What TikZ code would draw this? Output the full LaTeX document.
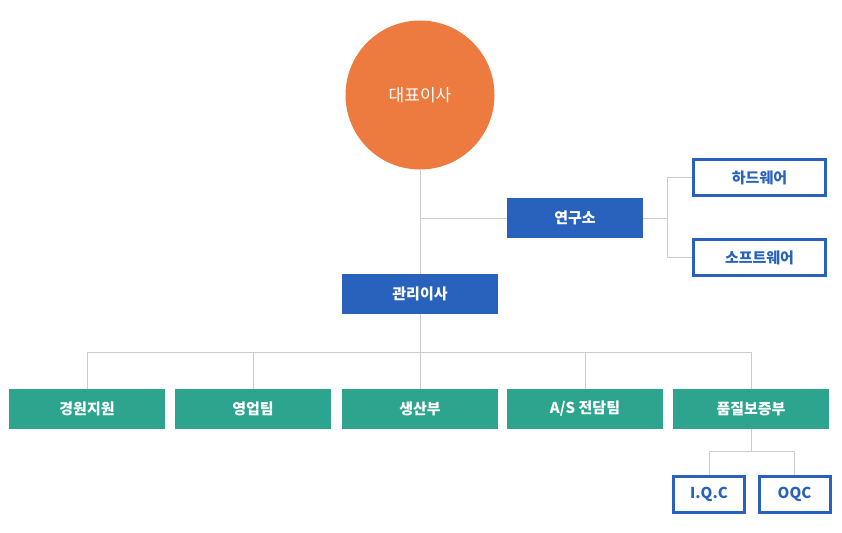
\documentclass[tikz,border=0pt]{standalone}
\usepackage{fontspec}
\setmainfont{Noto Sans CJK KR}
\usetikzlibrary{positioning}
\definecolor{orgorange}{RGB}{237,123,64}
\definecolor{orgblue}{RGB}{40,98,188}
\definecolor{orggreen}{RGB}{45,165,142}
\definecolor{orgline}{RGB}{204,204,204}
\tikzset{
  head/.style={circle, fill=orgorange, minimum size=149pt, inner sep=0pt,
               font=\fontsize{17}{20}\selectfont, text=white},
  chief/.style={fill=orgblue, minimum width=156pt, minimum height=40pt, inner sep=0pt,
                font=\fontsize{15}{18}\selectfont\bfseries, text=white},
  unit/.style={fill=orggreen, minimum width=156pt, minimum height=40pt, inner sep=0pt,
               font=\fontsize{15}{18}\selectfont\bfseries, text=white},
  team/.style={draw=orgblue, line width=3pt, fill=white, minimum height=36pt, inner sep=0pt,
               font=\fontsize{15}{18}\selectfont\bfseries, text=orgblue},
  link/.style={draw=orgline, line width=1pt},
}
\begin{document}
\begin{tikzpicture}[x=1pt,y=-1pt]
\useasboundingbox (0,0) rectangle (842,532);
% top
\node[head] (ceo) at (420,95) {대표이사};
\node[chief, minimum width=136pt] (lab) at (575,218) {연구소};
\node[chief] (mgr) at (420,294) {관리이사};
\node[team, minimum width=132pt] (hw) at (759.5,177.5) {하드웨어};
\node[team, minimum width=132pt] (sw) at (759.5,257.5) {소프트웨어};
% departments
\foreach \i/\x/\txt in {1/87/경원지원, 2/253/영업팀, 3/420/생산부, 4/585/{A/S 전담팀}, 5/751/품질보증부}
  \node[unit] (u\i) at (\x,409) {\txt};
\node[team, minimum width=71pt] (iqc) at (709,494.5) {I.Q.C};
\node[team, minimum width=71pt] (oqc) at (794.5,494.5) {OQC};
% links
\coordinate (ceojoint) at (ceo.south |- lab.west);
\coordinate (labbus) at (667,218);
\coordinate (bus) at (420,352);
\coordinate (qabus) at (751,451);
\draw[link] (ceo.south) -- (mgr.north);
\draw[link] (ceojoint) -- (lab.west);
\draw[link] (lab.east) -- (labbus);
\draw[link] (hw.west) -| (labbus);
\draw[link] (sw.west) -| (labbus);
\draw[link] (mgr.south) -- (bus);
\draw[link] (u1.north) |- (bus);
\draw[link] (u5.north) |- (bus);
\draw[link] (u2.north) -- (u2.north |- bus);
\draw[link] (u3.north) -- (bus);
\draw[link] (u4.north) -- (u4.north |- bus);
\draw[link] (u5.south) -- (qabus);
\draw[link] (iqc.north) |- (qabus);
\draw[link] (oqc.north) |- (qabus);
\end{tikzpicture}
\end{document}
